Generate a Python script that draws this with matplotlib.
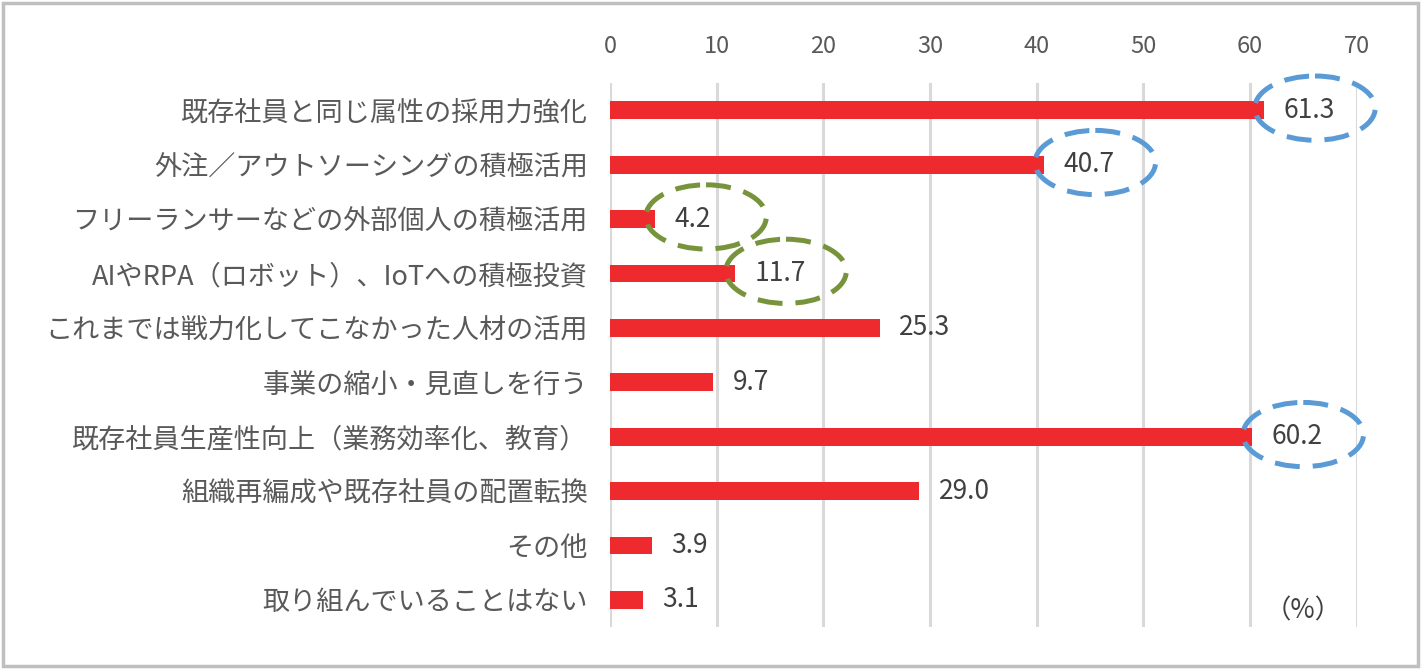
import matplotlib
matplotlib.use("Agg")
import matplotlib.pyplot as plt
from matplotlib.patches import Ellipse, Rectangle

plt.rcParams['font.family'] = ['Noto Sans CJK JP', 'DejaVu Sans']

categories = [
    "既存社員と同じ属性の採用力強化",
    "外注／アウトソーシングの積極活用",
    "フリーランサーなどの外部個人の積極活用",
    "AIやRPA（ロボット）、IoTへの積極投資",
    "これまでは戦力化してこなかった人材の活用",
    "事業の縮小・見直しを行う",
    "既存社員生産性向上（業務効率化、教育）",
    "組織再編成や既存社員の配置転換",
    "その他",
    "取り組んでいることはない",
]
values = [61.3, 40.7, 4.2, 11.7, 25.3, 9.7, 60.2, 29.0, 3.9, 3.1]
ticks = [0, 10, 20, 30, 40, 50, 60, 70]
# highlighted labels: index -> ring colour
highlights = {0: "#5b9bd5", 1: "#5b9bd5", 6: "#5b9bd5", 2: "#77933c", 3: "#77933c"}

fig = plt.figure(figsize=(14.22, 6.70), dpi=100)
ax = fig.add_axes([0.429, 0.064, 0.525, 0.812])

y = list(range(len(categories)))
ax.barh(y, values, height=0.33, color="#ee2a2f", zorder=3)
ax.set_xlim(0, 70)
ax.set_ylim(len(categories) - 0.5, -0.5)
ax.set_xticks(ticks)
ax.xaxis.tick_top()
ax.tick_params(axis='x', length=0, pad=18, labelsize=17, labelcolor="#595959")
ax.set_yticks(y)
ax.set_yticklabels(categories)
ax.tick_params(axis='y', length=0, pad=16, labelsize=19.5, labelcolor="#595959")
for s in ax.spines.values():
    s.set_visible(False)
ax.grid(axis='x', color="#d9d9d9", linewidth=2.2, zorder=0)
ax.set_axisbelow(True)

for i, v in enumerate(values):
    ax.annotate(f"{v:.1f}", xy=(v, i), xytext=(14, 0), textcoords="offset points",
                va="center", ha="left", fontsize=19, color="#404040", zorder=5)
    if i in highlights:
        cx = v + 4.8
        e = Ellipse((cx, i - 0.04), width=11.3, height=1.18, fill=False,
                    edgecolor=highlights[i], linewidth=3.6, linestyle=(0, (5, 2.6)),
                    zorder=6, clip_on=False)
        ax.add_patch(e)

ax.text(65.0, 9.2, "（%）", ha="center", va="center", fontsize=19, color="#404040")

fig.patches.append(Rectangle((0.002, 0.006), 0.995, 0.99, transform=fig.transFigure,
                             fill=False, edgecolor="#bfbfbf", linewidth=2.5))

fig.savefig("out.png", dpi=100)
